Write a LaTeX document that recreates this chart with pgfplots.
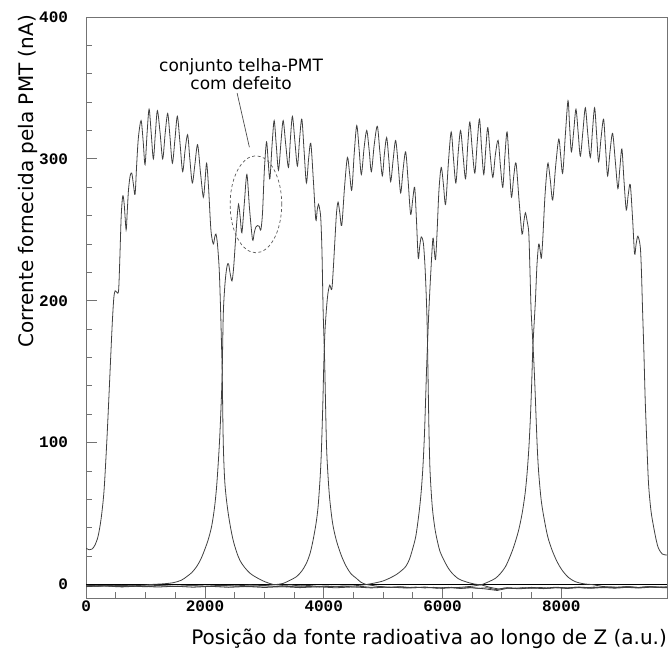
\documentclass[border=0pt]{standalone}
\usepackage{pgfplots}
\pgfplotsset{compat=1.18}
\usepackage{fontspec}
\setmainfont{DejaVu Sans}
\newfontfamily\tickfont{Liberation Mono}
\begin{document}
\begin{tikzpicture}
\begin{axis}[
  name=ax,
  scale only axis,
  width=580.8pt, height=581pt,
  xmin=0, xmax=9780, ymin=-9.5, ymax=400,
  axis line style={black!55, line width=0.9pt},
  tick pos=left, tick align=inside,
  xtick={0,2000,4000,6000,8000}, minor x tick num=3,
  ytick={0,100,200,300,400}, minor y tick num=4,
  major tick length=11pt, minor tick length=6pt,
  tick style={black!55, line width=0.9pt},
  ticklabel style={font=\fontsize{16}{16}\selectfont\tickfont\bfseries},
  /pgf/number format/assume math mode=true,
  /pgf/number format/1000 sep={},
  xticklabel style={inner sep=0pt, anchor=north, yshift=-3pt},
  yticklabel style={inner sep=0pt, anchor=east, xshift=-18pt},
  xlabel={Posição da fonte radioativa ao longo de Z (a.u.)},
  ylabel={Corrente fornecida pela PMT (nA)},
  label style={font=\fontsize{20}{20}\selectfont},
  xlabel style={at={([yshift=-46pt]axis description cs:1,0)}, anchor=base east, inner sep=0pt},
  ylabel style={at={([xshift=-53pt,yshift=2pt]axis description cs:0,1)}, anchor=base east, inner sep=0pt},
  crv/.style={black!75, line width=0.8pt, mark=none},
  sm/.style={crv, smooth, tension=0.5},
]
% zero reference line
\addplot[black, line width=0.9pt, mark=none] coordinates {(0,0) (9780,0)};

% ---- curve 1 ----
\addplot[sm] coordinates {
(0,25.5) (50,24.5) (100,25) (150,28) (200,34) (250,46) (300,66) (346,100) (380,130) (410,158) (440,185) (465,202) (487,207) (515,206) (545,207) (565,228) (590,260) (616,274) (640,268) (672,250) (690,262) (712,278) (740,288) (767,290) (795,282) (823,275) (850,296) (879,315) (924,327) (960,312) (991,296) (1025,318) (1059,335) (1095,318) (1131,300) (1165,318) (1199,334) (1245,318) (1288,300) (1330,318) (1372,332) (1410,316) (1451,297) (1495,314) (1535,330) (1580,311) (1624,291) (1665,306) (1708,317) (1745,300) (1787,283) (1830,296) (1876,310) (1925,290) (1972,273) (2000,284) (2028,297) (2060,280) (2100,250) (2140,240) (2165,245) (2185,247) (2210,240) (2240,222) (2262,195) (2278,170) (2290,150) (2308,100) (2336,71) (2392,50) (2476,31) (2589,17) (2757,8) (2980,2.5) (3150,0)};
\addplot[crv] coordinates {
(3150,0) (3300,-0.6) (3450,-0.3) (3600,-1.0) (3750,-0.7) (3900,-1.3) (4050,-1.0) (4200,-1.6) (4350,-1.2) (4500,-1.8) (4650,-1.4) (4800,-2.0) (4950,-1.5) (5100,-2.1) (5250,-1.7) (5400,-2.2) (5550,-1.8) (5700,-2.4) (5850,-2.0) (6000,-2.5) (6150,-2.0) (6300,-2.6) (6450,-2.1) (6600,-2.7) (6750,-2.3) (6900,-3.6) (7050,-2.4) (7200,-2.8) (7350,-2.2) (7500,-2.7) (7650,-2.1) (7800,-2.6) (7950,-2.0) (8100,-2.5) (8250,-1.9) (8400,-2.4) (8550,-1.8) (8700,-2.3) (8850,-1.7) (9000,-2.2) (9150,-1.6) (9300,-2.1) (9450,-1.5) (9600,-2.0) (9780,-1.6)};

% ---- curve 2 ----
\addplot[crv] coordinates {
(0,-0.8) (200,-1.3) (400,-0.6) (600,-1.5) (800,-0.9) (1000,-0.4) (1076,0)};
\addplot[sm] coordinates {
(1076,0) (1300,0.5) (1468,1.3) (1600,3) (1691,5.5) (1780,8.5) (1859,12.6) (1920,17) (1972,22) (2050,31) (2112,41) (2160,54) (2196,69) (2230,90) (2252,107) (2275,130) (2290,150) (2308,190) (2330,208) (2353,219) (2375,225) (2397,226) (2425,219) (2454,214) (2480,222) (2510,240) (2540,258) (2566,268) (2595,258) (2622,248) (2665,270) (2706,289) (2750,265) (2801,243) (2830,248) (2857,252) (2885,253) (2913,252.5) (2941,250) (2969,262) (3000,292) (3036,312) (3065,298) (3093,286) (3130,310) (3165,327) (3200,310) (3238,292) (3280,312) (3317,327) (3360,310) (3406,294) (3440,315) (3473,330) (3515,312) (3557,295) (3595,315) (3631,328) (3670,305) (3708,283) (3745,300) (3782,311) (3825,285) (3866,257) (3890,264) (3911,268) (3930,265) (3950,258) (3970,235) (3989,194) (4005,172) (4017,154) (4045,100) (4070,78) (4101,60) (4150,43) (4213,31) (4300,20) (4381,12.6) (4460,7.5) (4549,4.4) (4630,1.5) (4717,0)};
\addplot[crv] coordinates {
(4717,0) (4900,-1.2) (5100,-2.0) (5300,-1.5) (5500,-2.3) (5700,-1.8) (5900,-2.6) (6100,-2.0) (6300,-2.8) (6500,-2.2) (6700,-3.0) (6920,-4.2) (7100,-2.6) (7300,-3.0) (7500,-2.4) (7700,-2.9) (7900,-2.3) (8100,-2.8) (8300,-2.2) (8500,-2.7) (8700,-2.1) (8900,-2.6) (9100,-2.0) (9300,-2.5) (9500,-1.9) (9780,-2.3)};

% ---- curve 3 ----
\addplot[crv] coordinates {
(0,-1.2) (250,-0.7) (500,-1.5) (750,-1.0) (1000,-1.6) (1250,-0.9) (1500,-1.4) (1750,-0.8) (2000,-1.2) (2250,-0.6) (2500,-1.0) (2750,-0.4) (3000,-0.7) (3200,0)};
\addplot[sm] coordinates {
(3200,0) (3317,0.8) (3430,3) (3540,5.5) (3630,9.5) (3708,15) (3770,22) (3821,31.4) (3870,43) (3905,55) (3940,76) (3961,95) (3985,128) (4000,154) (4020,178) (4045,194) (4070,205) (4101,211) (4135,208) (4160,222) (4191,245) (4215,262) (4241,269.5) (4270,262) (4303,253) (4350,280) (4398,301) (4435,290) (4472,278) (4515,305) (4556,323.5) (4595,307) (4633,289) (4680,308) (4724,320) (4765,306) (4802,291) (4850,310) (4902,323) (4945,305) (4986,288) (5020,303) (5059,315) (5095,300) (5127,284) (5170,300) (5211,313) (5255,295) (5295,276) (5335,292) (5379,305) (5420,285) (5463,261) (5500,272) (5531,280) (5560,258) (5591,230) (5615,238) (5642,245) (5676,241) (5700,228) (5720,210) (5740,185) (5755,150) (5771,110) (5790,80) (5827,55) (5870,40) (5911,31) (5960,23) (6023,17.3) (6090,12) (6163,7.9) (6270,4) (6388,2) (6520,0.5) (6667,-0.4)};
\addplot[crv] coordinates {
(6667,-0.4) (6800,-2.0) (6950,-3.2) (7100,-2.2) (7300,-2.7) (7500,-2.0) (7700,-2.6) (7900,-1.9) (8100,-2.4) (8300,-1.8) (8500,-2.3) (8700,-1.7) (8900,-2.2) (9100,-1.6) (9300,-2.1) (9500,-1.5) (9780,-2.0)};

% ---- curve 4 ----
\addplot[crv] coordinates {
(0,-0.5) (300,-1.1) (600,-0.6) (900,-1.2) (1200,-0.7) (1500,-1.3) (1800,-0.8) (2100,-1.4) (2400,-0.9) (2700,-1.5) (3000,-1.0) (3300,-1.6) (3600,-1.1) (3900,-1.7) (4200,-1.2) (4500,-1.0) (4717,0)};
\addplot[sm] coordinates {
(4717,0) (4850,1) (4998,2.5) (5110,4.5) (5221,7) (5300,9.5) (5379,12.6) (5440,17.5) (5491,24.3) (5550,34) (5603,50) (5640,65) (5670,83) (5695,105) (5715,130) (5730,150) (5743,165) (5757,180) (5771,194) (5800,218) (5838,244) (5860,236) (5883,229) (5910,250) (5940,278) (5978,294) (6015,282) (6052,268) (6100,298) (6146,319) (6185,300) (6225,283) (6265,305) (6304,320) (6345,303) (6388,286) (6425,310) (6460,326) (6500,307) (6544,290) (6585,312) (6623,328) (6660,306) (6695,289) (6730,308) (6763,322) (6805,302) (6847,287) (6890,303) (6936,313) (6975,295) (7015,280) (7050,302) (7087,319) (7125,295) (7161,273) (7200,288) (7238,297) (7290,270) (7339,247) (7370,256) (7396,262) (7425,256) (7452,248) (7470,225) (7491,194) (7515,175) (7540,155) (7560,135) (7575,118) (7597,95) (7620,78.5) (7660,60) (7704,48) (7770,34) (7844,24.3) (7930,16) (8012,10.2) (8120,5) (8237,2) (8380,0.5) (8516,0)};
\addplot[crv] coordinates {
(8516,0) (8700,-1.4) (8900,-2.0) (9100,-1.5) (9300,-2.2) (9500,-1.6) (9780,-2.1)};

% ---- curve 5 ----
\addplot[crv] coordinates {
(0,-1.5) (300,-0.9) (600,-1.7) (900,-1.1) (1200,-1.8) (1500,-1.2) (1800,-1.9) (2100,-1.3) (2400,-2.0) (2700,-1.4) (3000,-2.1) (3300,-1.5) (3600,-2.2) (3900,-1.6) (4200,-2.3) (4500,-1.7) (4800,-2.4) (5100,-1.8) (5400,-2.5) (5700,-1.9) (6000,-2.6) (6300,-2.0) (6500,-1.2) (6667,0)};
\addplot[sm] coordinates {
(6667,0) (6780,2) (6892,4.4) (6980,8) (7060,12.6) (7130,19) (7200,26.7) (7280,38) (7340,50) (7390,64) (7424,78.5) (7455,97) (7480,118) (7500,140) (7519,165) (7540,182) (7564,200) (7590,225) (7620,240) (7645,235) (7665,230) (7690,245) (7721,271) (7750,288) (7777,297) (7815,285) (7855,271) (7905,295) (7957,314) (7990,302) (8024,290) (8070,318) (8113,341) (8140,323) (8170,305) (8210,320) (8247,335) (8285,318) (8321,302) (8365,320) (8405,336) (8445,318) (8489,301) (8525,320) (8561,336) (8595,317) (8628,298) (8670,315) (8712,328) (8745,308) (8780,288) (8820,305) (8864,318) (8910,298) (8953,279) (8985,293) (9020,307) (9055,285) (9094,264) (9125,274) (9161,282) (9200,258) (9234,233) (9260,240) (9290,245.5) (9330,238) (9350,220) (9368,194) (9390,165) (9413,130) (9440,100) (9469,71) (9510,52) (9553,41) (9600,31) (9637,25.5) (9700,21.5) (9780,20.8)};

% annotation
\node[align=center, font=\fontsize{17}{17.5}\selectfont, inner sep=0pt] at (axis cs:2608,359.8) {conjunto telha-PMT\\com defeito};
\draw[black!70, line width=0.7pt] (axis cs:2541,346.4) -- (axis cs:2748,308.2);
\draw[black!65, line width=0.7pt, dash pattern=on 3pt off 2.5pt] (axis cs:2858,268) ellipse [x radius=25.8pt, y radius=48.5pt];
\end{axis}
\pgfresetboundingbox
\path[use as bounding box] ([shift={(-86.2pt,-56pt)}]ax.south west) rectangle ([shift={(3pt,17pt)}]ax.north east);
\end{tikzpicture}
\end{document}
